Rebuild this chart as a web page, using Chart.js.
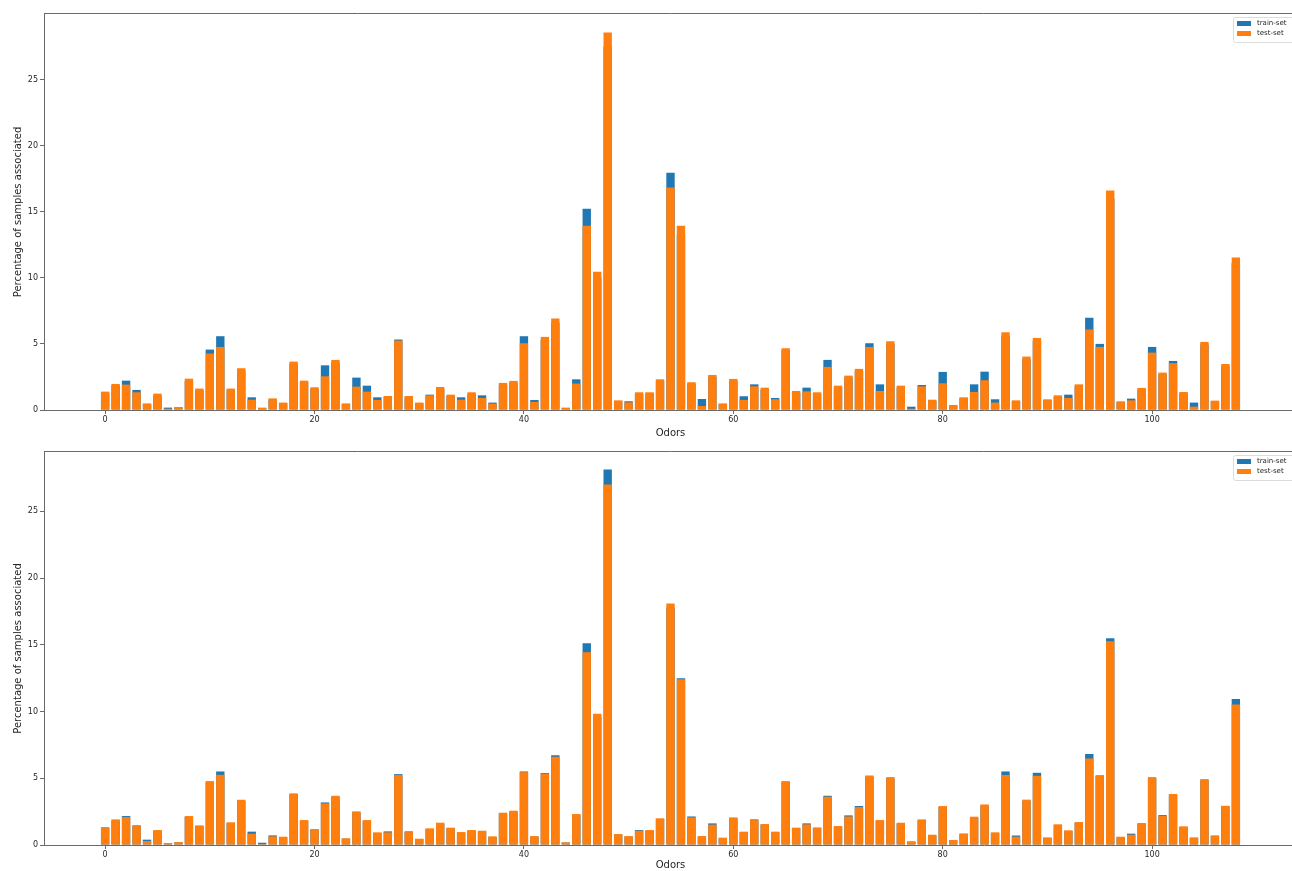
<!DOCTYPE html>
<html>
<head>
<meta charset="utf-8">
<title>Odor sample distribution</title>
<script src="https://cdn.jsdelivr.net/npm/chart.js@4.4.1/dist/chart.umd.min.js"></script>
<style>
  html, body { margin: 0; padding: 0; background: #ffffff; overflow: hidden; width: 1292px; height: 871px; }
  .panel { position: absolute; left: 0; }
  #panelTop { top: 0; }
  #panelBottom { top: 440px; }
</style>
</head>
<body>
<div class="panel" id="panelTop"><canvas id="chartTop" width="1310" height="440"></canvas></div>
<div class="panel" id="panelBottom"><canvas id="chartBottom" width="1310" height="432"></canvas></div>
<script>
// Odor indices along the x axis
const odorIds = [
  0,1,2,3,4,5,6,7,8,9,10,11,12,13,14,15,16,17,18,19,
  20,21,22,23,24,25,26,27,28,29,30,31,32,33,34,35,36,37,38,39,
  40,41,42,43,44,45,46,47,48,49,50,51,52,53,54,55,56,57,58,59,
  60,61,62,63,64,65,66,67,68,69,70,71,72,73,74,75,76,77,78,79,
  80,81,82,83,84,85,86,87,88,89,90,91,92,93,94,95,96,97,98,99,
  100,101,102,103,104,105,106,107,108
];
const seriesNames = ['train-set', 'test-set'];
const xTickValues = [0, 20, 40, 60, 80, 100];
const yTickValues = [0, 5, 10, 15, 20, 25];

// Upper panel: percentage of samples per odor
const trainTop = [
  1.25, 1.85, 2.22, 1.52, 0.45, 1.10, 0.18, 0.20, 2.20, 1.50,
  4.57, 5.58, 1.50, 3.00, 0.96, 0.15, 0.80, 0.50, 3.50, 2.10,
  1.60, 3.38, 3.60, 0.45, 2.45, 1.84, 0.96, 1.00, 5.33, 0.95,
  0.50, 1.16, 1.60, 1.05, 0.96, 1.20, 1.11, 0.56, 1.90, 2.05,
  5.58, 0.76, 5.30, 6.60, 0.15, 2.32, 15.23, 10.00, 27.50, 0.65,
  0.66, 1.20, 1.25, 2.20, 17.95, 13.30, 2.00, 0.83, 2.50, 0.45,
  2.20, 1.04, 1.94, 1.55, 0.91, 4.50, 1.30, 1.69, 1.25, 3.79,
  1.70, 2.45, 2.95, 5.05, 1.94, 5.00, 1.70, 0.25, 1.89, 0.70,
  2.88, 0.35, 0.90, 1.94, 2.90, 0.81, 5.60, 0.65, 3.85, 5.25,
  0.75, 1.00, 1.16, 1.80, 6.97, 5.00, 16.00, 0.60, 0.86, 1.55,
  4.77, 2.70, 3.71, 1.25, 0.56, 4.95, 0.65, 3.30, 11.10
];
const testTop = [
  1.39, 1.97, 1.92, 1.34, 0.50, 1.24, 0.10, 0.23, 2.37, 1.62,
  4.27, 4.77, 1.62, 3.16, 0.78, 0.18, 0.88, 0.56, 3.66, 2.22,
  1.72, 2.55, 3.79, 0.50, 1.77, 1.39, 0.76, 1.06, 5.25, 1.06,
  0.56, 1.11, 1.74, 1.16, 0.78, 1.34, 0.91, 0.48, 2.05, 2.20,
  5.05, 0.61, 5.53, 6.92, 0.18, 2.00, 13.94, 10.45, 28.56, 0.73,
  0.58, 1.34, 1.34, 2.32, 16.82, 13.94, 2.10, 0.30, 2.65, 0.50,
  2.35, 0.76, 1.79, 1.69, 0.81, 4.67, 1.44, 1.41, 1.34, 3.26,
  1.84, 2.60, 3.11, 4.77, 1.44, 5.20, 1.84, 0.10, 1.79, 0.78,
  2.02, 0.38, 0.96, 1.36, 2.25, 0.56, 5.88, 0.73, 4.04, 5.45,
  0.81, 1.11, 0.91, 1.94, 6.09, 4.77, 16.60, 0.66, 0.73, 1.67,
  4.34, 2.83, 3.54, 1.36, 0.25, 5.15, 0.71, 3.48, 11.54
];

// Lower panel: percentage of samples per odor
const trainBottom = [
  1.32, 1.85, 2.17, 1.47, 0.40, 1.07, 0.12, 0.20, 2.10, 1.42,
  4.70, 5.51, 1.65, 3.30, 1.00, 0.17, 0.72, 0.58, 3.80, 1.80,
  1.15, 3.19, 3.60, 0.47, 2.45, 1.80, 0.90, 1.02, 5.31, 1.02,
  0.45, 1.20, 1.60, 1.25, 0.92, 1.07, 1.02, 0.60, 2.35, 2.50,
  5.51, 0.62, 5.39, 6.73, 0.18, 2.25, 15.12, 9.60, 28.14, 0.78,
  0.62, 1.12, 1.07, 1.95, 17.80, 12.50, 2.14, 0.62, 1.62, 0.50,
  2.00, 0.95, 1.92, 1.52, 0.95, 4.70, 1.25, 1.62, 1.27, 3.69,
  1.37, 2.22, 2.92, 5.10, 1.80, 5.00, 1.60, 0.25, 1.85, 0.72,
  2.85, 0.35, 0.82, 2.05, 2.95, 0.90, 5.51, 0.71, 3.32, 5.41,
  0.53, 1.50, 1.05, 1.67, 6.81, 5.15, 15.50, 0.58, 0.85, 1.60,
  5.00, 2.24, 3.75, 1.35, 0.53, 4.85, 0.68, 2.88, 10.95
];
const testBottom = [
  1.27, 1.92, 2.09, 1.42, 0.30, 1.12, 0.15, 0.22, 2.17, 1.47,
  4.79, 5.26, 1.70, 3.39, 0.85, 0.07, 0.65, 0.62, 3.87, 1.87,
  1.20, 3.12, 3.69, 0.50, 2.52, 1.87, 0.95, 0.95, 5.24, 0.97,
  0.47, 1.25, 1.67, 1.30, 0.97, 1.12, 1.07, 0.65, 2.42, 2.57,
  5.46, 0.67, 5.34, 6.61, 0.20, 2.32, 14.45, 9.83, 27.02, 0.82,
  0.67, 1.07, 1.12, 2.00, 18.10, 12.42, 2.07, 0.67, 1.53, 0.55,
  2.07, 1.00, 1.87, 1.57, 1.00, 4.79, 1.30, 1.55, 1.32, 3.62,
  1.42, 2.14, 2.84, 5.21, 1.87, 5.09, 1.67, 0.27, 1.92, 0.77,
  2.92, 0.37, 0.87, 2.12, 3.04, 0.95, 5.25, 0.62, 3.40, 5.19,
  0.57, 1.55, 1.10, 1.72, 6.48, 5.24, 15.27, 0.62, 0.77, 1.65,
  5.09, 2.17, 3.82, 1.40, 0.57, 4.94, 0.72, 2.94, 10.52
];

const FONT = 'DejaVu Sans';
const TEXT = '#262626';
const SPINE = '#6a6a6a';
Chart.defaults.font.family = FONT;

// Top and right spines of the axes box
const axesFrame = {
  id: 'axesFrame',
  afterDatasetsDraw(chart) {
    const { ctx, chartArea } = chart;
    ctx.save();
    ctx.strokeStyle = SPINE;
    ctx.lineWidth = 1;
    ctx.beginPath();
    const y = Math.round(chartArea.top) - 0.5;
    ctx.moveTo(chartArea.left, y);
    ctx.lineTo(chartArea.right, y);
    const x = Math.round(chartArea.right) + 0.5;
    ctx.moveTo(x, chartArea.top);
    ctx.lineTo(x, chartArea.bottom);
    ctx.stroke();
    ctx.restore();
  }
};

// Boxed legend in the upper-right corner of the axes
const cornerLegend = {
  id: 'cornerLegend',
  afterDraw(chart) {
    const { ctx, chartArea } = chart;
    const x0 = Math.round(chartArea.right) - 64;
    const y0 = Math.round(chartArea.top) + 3;
    ctx.save();
    ctx.fillStyle = 'rgba(255,255,255,0.85)';
    ctx.strokeStyle = '#dcdcdc';
    ctx.lineWidth = 1;
    ctx.beginPath();
    ctx.roundRect(x0 + 0.5, y0 + 0.5, 62, 25, 2);
    ctx.fill();
    ctx.stroke();
    ctx.font = '7px "' + FONT + '"';
    ctx.textBaseline = 'middle';
    ctx.textAlign = 'left';
    chart.data.datasets.forEach((ds, i) => {
      const cy = y0 + 6.5 + i * 10;
      ctx.fillStyle = ds.backgroundColor;
      ctx.fillRect(x0 + 4, cy - 2.5, 14, 5);
      ctx.fillStyle = TEXT;
      ctx.fillText(ds.label, x0 + 24, cy);
    });
    ctx.restore();
  }
};

function makePanel(canvasId, train, test, yMax, padTop, xAxisHeight, titlePad) {
  return new Chart(document.getElementById(canvasId), {
    type: 'bar',
    data: {
      labels: odorIds,
      datasets: [
        { label: seriesNames[0], data: train, backgroundColor: '#1f77b4', order: 1,
          grouped: false, categoryPercentage: 0.8, barPercentage: 1, borderWidth: 0 },
        { label: seriesNames[1], data: test, backgroundColor: '#ff7f0e', order: 0,
          grouped: false, categoryPercentage: 0.8, barPercentage: 1, borderWidth: 0 }
      ]
    },
    options: {
      responsive: false,
      animation: false,
      events: [],
      layout: { padding: { top: padTop, right: 13, left: 0, bottom: 0 } },
      plugins: { legend: { display: false }, tooltip: { enabled: false } },
      scales: {
        x: {
          type: 'linear',
          min: -5.84,
          max: 113.84,
          offset: false,
          afterFit(scale) { scale.height = xAxisHeight; },
          afterBuildTicks(scale) { scale.ticks = xTickValues.map(v => ({ value: v })); },
          ticks: { font: { size: 8 }, color: TEXT, padding: 1, maxRotation: 0, autoSkip: false },
          grid: { display: true, offset: false, drawOnChartArea: false, drawTicks: true, tickLength: 4, color: SPINE },
          border: { display: true, color: SPINE, width: 1 },
          title: { display: true, text: 'Odors', font: { size: 10 }, color: TEXT, padding: { top: 0, bottom: titlePad } }
        },
        y: {
          type: 'linear',
          min: 0,
          max: yMax,
          afterFit(scale) { scale.width = 44; },
          afterBuildTicks(scale) { scale.ticks = yTickValues.map(v => ({ value: v })); },
          ticks: { font: { size: 8 }, color: TEXT, padding: 2 },
          grid: { display: true, offset: false, drawOnChartArea: false, drawTicks: true, tickLength: 4, color: SPINE },
          border: { display: true, color: SPINE, width: 1 },
          title: { display: true, text: 'Percentage of samples associated', font: { size: 10 }, color: TEXT, padding: { top: 12, bottom: 0 } }
        }
      }
    },
    plugins: [axesFrame, cornerLegend]
  });
}

makePanel('chartTop', trainTop, testTop, 29.95, 14, 30, 1);
makePanel('chartBottom', trainBottom, testBottom, 29.45, 12, 27, 1);
</script>
</body>
</html>
